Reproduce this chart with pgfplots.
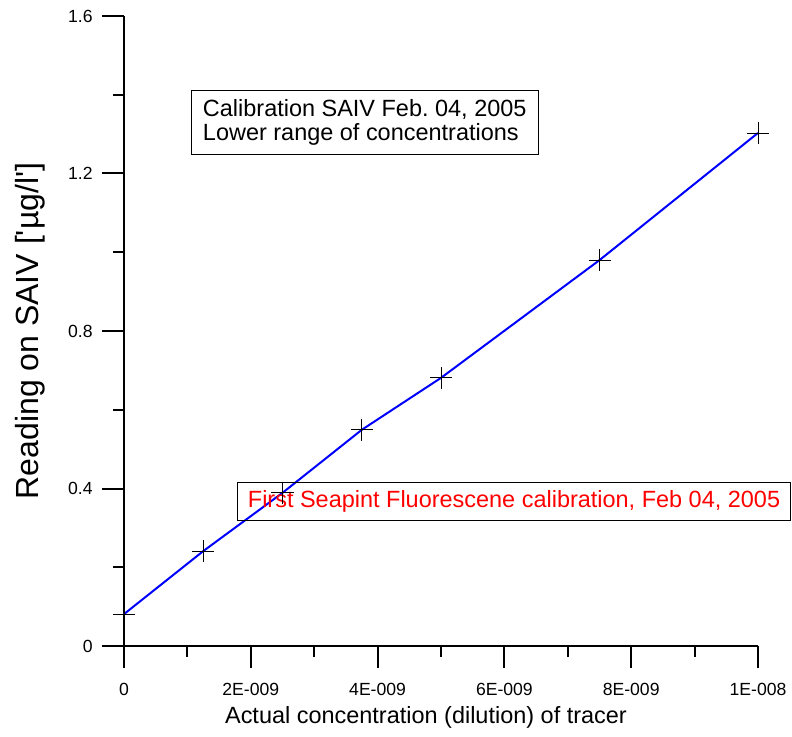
\documentclass[border=0pt]{standalone}
\usepackage{fontspec}
\setmainfont{Liberation Sans}
\usepackage{pgfplots}
\pgfplotsset{compat=1.18}
\begin{document}
\frenchspacing
\begin{tikzpicture}
\useasboundingbox (-93pt,-67.5pt) rectangle (501pt,484.5pt);
\begin{axis}[
  at={(0,0)}, anchor=south west,
  scale only axis, width=475.5pt, height=472.5pt,
  xmin=0, xmax=1e-8, ymin=0, ymax=1.6,
  axis x line*=bottom, axis y line*=left,
  axis line style={line width=1.5pt, -},
  xtick={0,2e-9,4e-9,6e-9,8e-9,1e-8},
  xticklabels={0,2E-009,4E-009,6E-009,8E-009,1E-008},
  minor xtick={1e-9,3e-9,5e-9,7e-9,9e-9},
  ytick={0,0.4,0.8,1.2,1.6},
  yticklabels={0,0.4,0.8,1.2,1.6},
  minor ytick={0.2,0.6,1.0,1.4},
  scaled x ticks=false, scaled y ticks=false,
  tick align=outside,
  major tick length=16.5pt, minor tick length=8.25pt,
  every tick/.style={black, line width=1.5pt},
  ticklabel style={font=\fontsize{13.2}{15}\selectfont},
  xticklabel style={yshift=-8pt},
  yticklabel style={xshift=-3.5pt},
  xlabel={Actual concentration (dilution) of tracer},
  xlabel style={at={(axis description cs:0.4763,-0.1127)}, anchor=center, font=\fontsize{17.6}{20}\selectfont},
  ylabel={Reading on SAIV [\textquotesingle µg/l\textquotesingle]},
  ylabel style={at={(axis description cs:-0.148,0.5)}, anchor=center, font=\fontsize{24}{28}\selectfont},
  clip=false,
]
\addplot[color={rgb,255:red,0;green,0;blue,255}, line width=1.5pt, mark=+, mark size=8.25pt, mark options={black, line width=0.6pt}]
  coordinates {
    (0,0.081)
    (1.25e-9,0.241)
    (2.5e-9,0.389)
    (3.75e-9,0.549)
    (5e-9,0.681)
    (7.5e-9,0.980)
    (1e-8,1.303)
  };
\node[draw, line width=0.6pt, anchor=north west, minimum width=260pt, minimum height=48pt, align=left, font=\fontsize{17.6}{17.5}\selectfont]
  at (rel axis cs:0.1057,0.8825) {Calibration SAIV Feb. 04, 2005\\Lower range of concentrations};
\node[draw, line width=0.6pt, anchor=north west, minimum width=415pt, minimum height=28.5pt, text=red, font=\fontsize{17.6}{20}\selectfont]
  at (rel axis cs:0.1782,0.2603) {First Seapint Fluorescene calibration, Feb 04, 2005};
\end{axis}
\end{tikzpicture}
\end{document}
